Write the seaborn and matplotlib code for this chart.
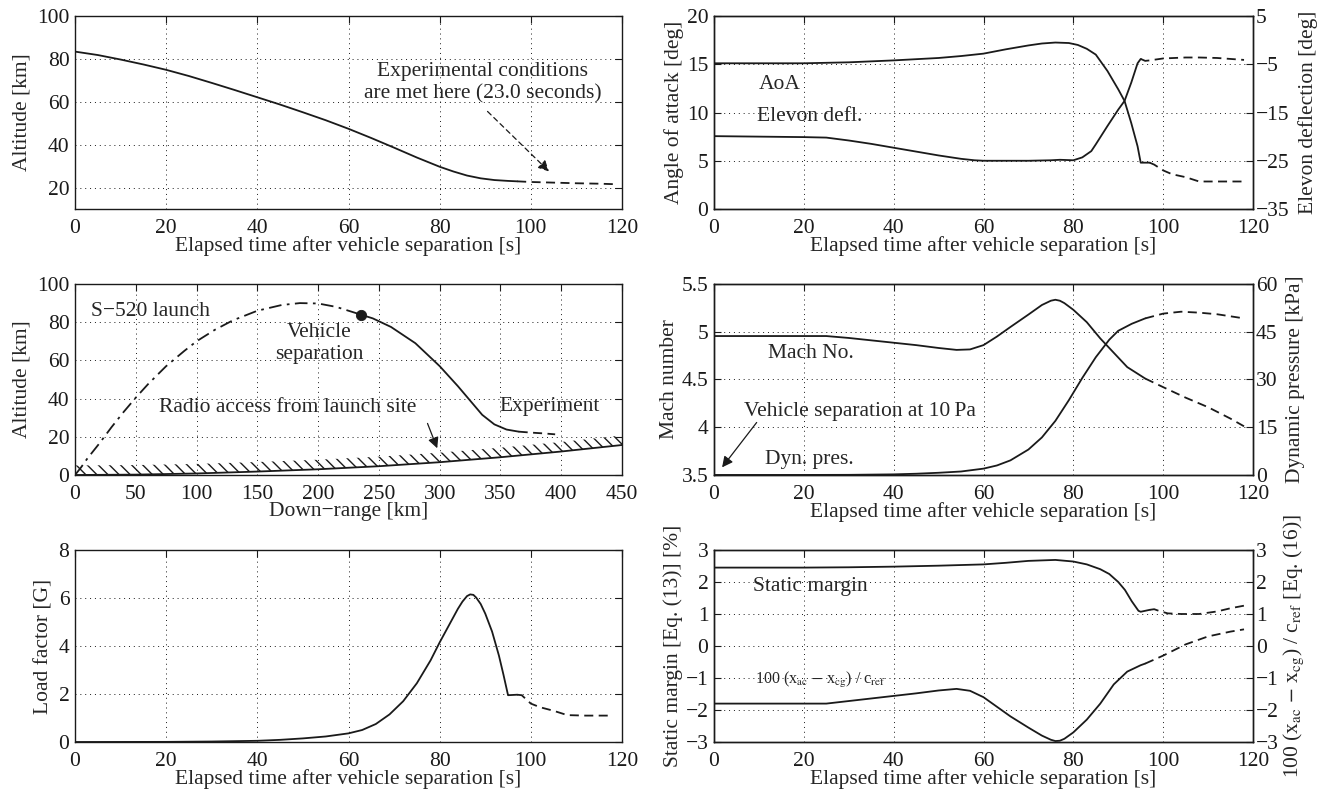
import numpy as np
import pandas as pd
import matplotlib
matplotlib.use("Agg")
import matplotlib.pyplot as plt
import seaborn as sns

# ---------------- data ----------------
time_ticks = [0, 20, 40, 60, 80, 100, 120]
XLABEL = "Elapsed time after vehicle separation [s]"

# Panel 1: altitude vs time
alt_t = [0, 5, 10, 15, 20, 25, 30, 35, 40, 45, 50, 55, 60, 65, 70, 75, 80, 83, 86, 89, 92, 95, 97, 100, 105, 110, 115, 118]
alt_km = [83.4, 81.8, 79.7, 77.4, 74.9, 72.0, 68.8, 65.5, 62.1, 58.7, 55.1, 51.4, 47.4, 43.1, 38.6, 34.0,
          29.7, 27.5, 25.6, 24.3, 23.5, 23.1, 22.9, 22.6, 22.3, 22.0, 21.8, 21.6]
alt_split = 97
alt_yticks = [20, 40, 60, 80, 100]

# Panel 2: angle of attack (left) and elevon deflection (right)
aoa_t = [0, 10, 20, 25, 30, 40, 50, 55, 58, 60, 65, 70, 73, 76, 79, 81, 83, 85, 87.6, 90, 91.4, 92.9, 94.3, 95,
         97, 98, 100, 102, 105, 108, 112, 118]
aoa_deg = [15.1, 15.1, 15.1, 15.15, 15.2, 15.4, 15.65, 15.85, 16.0, 16.1, 16.55, 16.95, 17.15, 17.25, 17.2, 17.0,
           16.6, 16.0, 14.3, 12.4, 11.2, 8.9, 6.5, 4.8, 4.8, 4.6, 4.0, 3.6, 3.3, 2.85, 2.85, 2.85]
aoa_split = 97
elev_t = [0, 10, 20, 25, 30, 35, 40, 45, 50, 55, 58, 60, 65, 70, 75, 77, 80, 82, 84, 85, 87.6, 90, 91.4, 92.9,
          94.3, 95, 96, 97, 100, 105, 108, 112, 115, 118]
elev_deg = [-19.9, -20.0, -20.1, -20.2, -20.8, -21.5, -22.3, -23.1, -23.9, -24.6, -24.9, -25.0, -25.0, -25.0,
            -24.9, -24.8, -24.9, -24.3, -23.0, -21.6, -17.8, -14.4, -12.6, -8.8, -4.8, -3.9, -4.3, -4.2, -3.8,
            -3.6, -3.6, -3.7, -3.9, -4.1]
elev_split = 95
aoa_yticks = [0, 5, 10, 15, 20]
elev_yticks = [-35, -25, -15, -5, 5]

# Panel 3: trajectory vs down-range
launch_km = [0, 5, 10, 20, 30, 40, 50, 60, 75, 90, 100, 115, 130, 150, 170, 185, 200, 215, 235]
launch_alt = [0, 4, 8.5, 16.5, 25, 33, 40.5, 47.5, 57, 65, 70, 76, 81, 86, 89, 90, 89.8, 88, 84]
veh_km = [235, 245, 260, 280, 300, 315, 325, 335, 345, 355, 365, 375, 385, 395]
veh_alt = [84, 82, 77.5, 69, 57, 46.5, 39, 31.5, 26.5, 23.8, 22.7, 22.2, 21.8, 21.3]
veh_split = 365
radio_km = [0, 50, 100, 150, 200, 250, 300, 350, 400, 450]
radio_alt = [0, 0.2, 0.8, 1.8, 3.0, 4.6, 6.7, 9.3, 12.3, 15.7]
range_ticks = [0, 50, 100, 150, 200, 250, 300, 350, 400, 450]
traj_yticks = [0, 20, 40, 60, 80, 100]

# Panel 4: Mach number (left) and dynamic pressure (right)
mach_t = [0, 10, 20, 25, 30, 35, 40, 45, 50, 54, 57, 60, 63, 66, 70, 73, 75, 76, 77, 78, 80, 83, 86, 89, 92, 95,
          96, 100, 105, 110, 115, 118]
mach = [4.955, 4.955, 4.955, 4.955, 4.935, 4.91, 4.885, 4.86, 4.83, 4.81, 4.815, 4.86, 4.95, 5.05, 5.18, 5.28,
        5.325, 5.335, 5.325, 5.30, 5.23, 5.10, 4.93, 4.78, 4.63, 4.54, 4.51, 4.42, 4.31, 4.21, 4.09, 4.01]
mach_split = 96
q_t = [0, 20, 30, 40, 45, 50, 55, 60, 63, 66, 70, 73, 76, 79, 82, 85, 88, 90, 93, 96, 100, 104, 108, 112, 118]
q_kpa = [0.01, 0.02, 0.05, 0.2, 0.4, 0.7, 1.1, 2.0, 3.0, 4.6, 8.0, 11.8, 17.0, 23.5, 30.5, 37.0, 42.5, 45.3,
         47.5, 49.2, 50.7, 51.3, 51.0, 50.5, 49.2]
q_split = 96
mach_yticks = [3.5, 4, 4.5, 5, 5.5]
mach_yticklabels = ["3.5", "4", "4.5", "5", "5.5"]
q_yticks = [0, 15, 30, 45, 60]

# Panel 5: load factor
load_t = [0, 20, 30, 40, 45, 50, 55, 60, 63, 66, 69, 72, 75, 78, 80, 82, 84, 85, 86, 86.7, 87.4, 88, 89, 90,
          91.5, 93, 94, 95, 97, 98, 100, 102, 105, 108, 112, 118]
load_g = [0, 0.005, 0.02, 0.05, 0.09, 0.15, 0.23, 0.36, 0.5, 0.75, 1.15, 1.7, 2.45, 3.4, 4.15, 4.85, 5.55, 5.85,
          6.08, 6.15, 6.13, 6.02, 5.75, 5.35, 4.6, 3.6, 2.8, 1.95, 1.97, 1.95, 1.6, 1.45, 1.3, 1.12, 1.1, 1.1]
load_split = 97
load_yticks = [0, 2, 4, 6, 8]

# Panel 6: static margin (left) and 100(xac-xcg)/cref (right)
sm_t = [0, 20, 30, 40, 50, 60, 65, 70, 76, 80, 83, 86, 88, 90, 91.5, 93, 94.5, 95, 97, 98, 99, 101, 104, 108,
        112, 115, 118]
sm_pct = [2.45, 2.45, 2.46, 2.48, 2.51, 2.55, 2.6, 2.66, 2.69, 2.64, 2.55, 2.4, 2.25, 2.0, 1.75, 1.4, 1.1, 1.07,
          1.13, 1.15, 1.1, 1.02, 1.0, 1.0, 1.08, 1.18, 1.26]
sm_split = 97
xac_t = [0, 10, 20, 25, 30, 35, 40, 45, 50, 54, 57, 60, 63, 66, 70, 73, 75, 76, 77, 78, 80, 83, 86, 89, 92, 95,
         96, 100, 105, 110, 115, 118]
xac_val = [-1.8, -1.8, -1.8, -1.8, -1.72, -1.64, -1.56, -1.48, -1.39, -1.34, -1.4, -1.6, -1.9, -2.2, -2.55,
           -2.8, -2.93, -2.97, -2.96, -2.9, -2.7, -2.3, -1.8, -1.2, -0.8, -0.6, -0.55, -0.3, 0.05, 0.3, 0.45, 0.52]
xac_split = 96
sm_yticks = [-3, -2, -1, 0, 1, 2, 3]

# ---------------- style ----------------
sns.set_theme(style="white")
FS = 15.5
plt.rcParams["font.family"] = ["Liberation Serif", "DejaVu Serif"]
plt.rcParams["mathtext.fontset"] = "stix"
plt.rcParams["font.size"] = FS
plt.rcParams["hatch.linewidth"] = 1.0
plt.rcParams["axes.edgecolor"] = "black"
plt.rcParams["axes.linewidth"] = 1.0
LW = 1.3
DASH = (0, (5, 3))
DASHDOT = (0, (7, 3, 1.5, 3))

fig = plt.figure(figsize=(13.29, 7.96), dpi=100)
LX, LW_AX = 75 / 1329, (622 - 75) / 1329
RX, RW_AX = 714 / 1329, (1253 - 714) / 1329
rows = [(1 - 209 / 796, 193 / 796), (1 - 475 / 796, 191 / 796), (1 - 742 / 796, 192 / 796)]


def line(ax, xs, ys, split, before="-", after=DASH):
    df = pd.DataFrame({"x": xs, "y": ys})
    a = df[df.x <= split]
    b = df[df.x >= split]
    sns.lineplot(data=a, x="x", y="y", ax=ax, color="k", lw=LW, linestyle=before,
                 estimator=None, sort=False)
    if len(b) > 1:
        sns.lineplot(data=b, x="x", y="y", ax=ax, color="k", lw=LW, linestyle=after,
                     estimator=None, sort=False)


def style(ax, twin=None):
    ax.grid(True, linestyle=(0, (1, 4)), color="k", lw=0.7)
    ax.set_axisbelow(True)
    ax.tick_params(direction="in", length=5, width=0.8, top=True, right=(twin is None),
                   labelsize=FS, colors="k")
    ax.tick_params(axis="x", pad=7)
    ax.tick_params(axis="y", pad=4)
    for s in ax.spines.values():
        s.set_color("k")
        s.set_linewidth(1.0)
    if twin is not None:
        twin.tick_params(direction="in", length=5, width=0.8, labelsize=FS, colors="k", pad=2)
        for s in twin.spines.values():
            s.set_color("k")


# ---- Panel 1
ax1 = fig.add_axes([LX, rows[0][0], LW_AX, rows[0][1]])
line(ax1, alt_t, alt_km, alt_split)
ax1.set_xlim(0, 120); ax1.set_ylim(10, 100)
ax1.set_xticks(time_ticks); ax1.set_yticks(alt_yticks)
ax1.set_xlabel(XLABEL, fontsize=FS, labelpad=-1); ax1.set_ylabel("Altitude [km]", fontsize=FS)
style(ax1)
ax1.text(89.5, 69, "Experimental conditions\nare met here (23.0 seconds)", ha="center", va="center",
         fontsize=FS, linespacing=1.25)
ax1.annotate("", xy=(104, 27.5), xytext=(90.5, 55.5),
             arrowprops=dict(arrowstyle="-|>", color="k", lw=0.9, linestyle=(0, (4, 3)),
                             mutation_scale=16, shrinkA=0, shrinkB=0))

# ---- Panel 2
ax2 = fig.add_axes([RX, rows[0][0], RW_AX, rows[0][1]])
ax2b = ax2.twinx()
line(ax2, aoa_t, aoa_deg, aoa_split)
line(ax2b, elev_t, elev_deg, elev_split)
ax2.set_xlim(0, 120); ax2.set_ylim(0, 20); ax2b.set_ylim(-35, 5)
ax2.set_xticks(time_ticks); ax2.set_yticks(aoa_yticks); ax2b.set_yticks(elev_yticks)
ax2.set_xlabel(XLABEL, fontsize=FS, labelpad=-1)
ax2.set_ylabel("Angle of attack [deg]", fontsize=FS, labelpad=2)
ax2b.set_ylabel("Elevon deflection [deg]", fontsize=FS, labelpad=6)
style(ax2, ax2b)
ax2.text(10, 12.9, "AoA", fontsize=FS, va="center")
ax2.text(9.5, 9.6, "Elevon defl.", fontsize=FS, va="center")

# ---- Panel 3
ax3 = fig.add_axes([LX, rows[1][0], LW_AX, rows[1][1]])
ax3.fill_between(radio_km, radio_alt, np.array(radio_alt) + 5, facecolor="none", edgecolor="k",
                 hatch="\\\\\\", linewidth=0)
sns.lineplot(x=radio_km, y=radio_alt, ax=ax3, color="k", lw=LW, estimator=None, sort=False)
sns.lineplot(x=launch_km, y=launch_alt, ax=ax3, color="k", lw=LW, linestyle=DASHDOT,
             estimator=None, sort=False)
line(ax3, veh_km, veh_alt, veh_split)
sns.scatterplot(x=veh_km[:1], y=veh_alt[:1], ax=ax3, color="k", s=55, zorder=5, edgecolor="k")
ax3.set_xlim(0, 450); ax3.set_ylim(0, 100)
ax3.set_xticks(range_ticks); ax3.set_yticks(traj_yticks)
ax3.set_xlabel("Down\u2212range [km]", fontsize=FS, labelpad=-1); ax3.set_ylabel("Altitude [km]", fontsize=FS)
style(ax3)
ax3.text(13, 85.5, "S\u2212520 launch", fontsize=FS, va="center")
ax3.text(201, 69, "Vehicle\nseparation", fontsize=FS, ha="center", va="center", linespacing=1.2)
ax3.text(69, 35.5, "Radio access from launch site", fontsize=FS, va="center")
ax3.text(349, 36, "Experiment", fontsize=FS, va="center")
ax3.annotate("", xy=(298, 14), xytext=(290, 27),
             arrowprops=dict(arrowstyle="-|>", color="k", lw=0.9, mutation_scale=16, shrinkA=0, shrinkB=0))

# ---- Panel 4
ax4 = fig.add_axes([RX, rows[1][0], RW_AX, rows[1][1]])
ax4b = ax4.twinx()
line(ax4, mach_t, mach, mach_split)
line(ax4b, q_t, q_kpa, q_split)
ax4.set_xlim(0, 120); ax4.set_ylim(3.5, 5.5); ax4b.set_ylim(0, 60)
ax4.set_xticks(time_ticks); ax4.set_yticks(mach_yticks); ax4.set_yticklabels(mach_yticklabels)
ax4b.set_yticks(q_yticks)
ax4.set_xlabel(XLABEL, fontsize=FS, labelpad=-1)
ax4.set_ylabel("Mach number", fontsize=FS, labelpad=2)
ax4b.set_ylabel("Dynamic pressure [kPa]", fontsize=FS, labelpad=6)
style(ax4, ax4b)
ax4.text(12, 4.77, "Mach No.", fontsize=FS, va="center")
ax4.text(11.4, 3.66, "Dyn. pres.", fontsize=FS, va="center")
ax4.text(6.7, 4.16, "Vehicle separation at 10\u2009Pa", fontsize=FS, va="center")
ax4.annotate("", xy=(1.8, 3.58), xytext=(9.5, 4.05),
             arrowprops=dict(arrowstyle="-|>", color="k", lw=0.9, mutation_scale=16, shrinkA=0, shrinkB=0))

# ---- Panel 5
ax5 = fig.add_axes([LX, rows[2][0], LW_AX, rows[2][1]])
line(ax5, load_t, load_g, load_split)
ax5.set_xlim(0, 120); ax5.set_ylim(0, 8)
ax5.set_xticks(time_ticks); ax5.set_yticks(load_yticks)
ax5.set_xlabel(XLABEL, fontsize=FS, labelpad=-1); ax5.set_ylabel("Load factor [G]", fontsize=FS)
style(ax5)

# ---- Panel 6
ax6 = fig.add_axes([RX, rows[2][0], RW_AX, rows[2][1]])
ax6b = ax6.twinx()
line(ax6, sm_t, sm_pct, sm_split)
line(ax6b, xac_t, xac_val, xac_split)
ax6.set_xlim(0, 120); ax6.set_ylim(-3, 3); ax6b.set_ylim(-3, 3)
ax6.set_xticks(time_ticks); ax6.set_yticks(sm_yticks); ax6b.set_yticks(sm_yticks)
ax6.set_xlabel(XLABEL, fontsize=FS, labelpad=-1)
ax6.set_ylabel("Static margin [Eq. (13)] [%]", fontsize=FS, labelpad=2)
ax6b.set_ylabel(r"100 (x$_{\rm ac}$ $-$ x$_{\rm cg}$) / c$_{\rm ref}$ [Eq. (16)]", fontsize=FS, labelpad=2)
style(ax6, ax6b)
ax6.text(8.6, 1.85, "Static margin", fontsize=FS, va="center")
ax6.text(9.2, -1.05, r"100 (x$_{\rm ac}$ $-$ x$_{\rm cg}$) / c$_{\rm ref}$", fontsize=11.5, va="center")

for a in [ax1, ax2, ax3, ax4, ax5, ax6]:
    a.set_zorder(2)
    a.patch.set_visible(False)
for a in [ax2b, ax4b, ax6b]:
    a.set_zorder(1)

fig.savefig("out.png", dpi=100, facecolor="white")
